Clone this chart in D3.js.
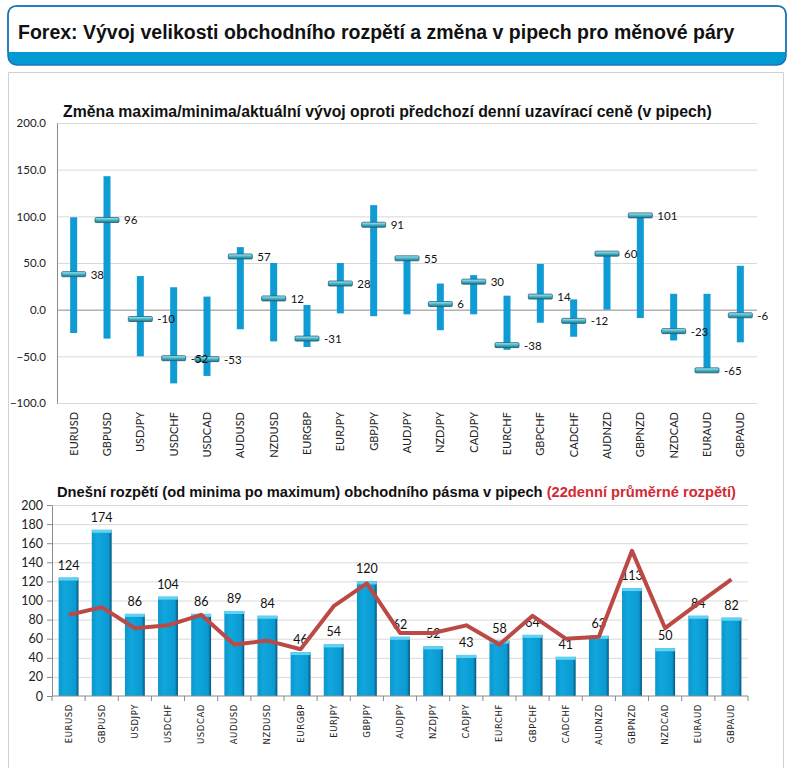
<!DOCTYPE html>
<html>
<head>
<meta charset="utf-8">
<script src="https://cdn.jsdelivr.net/npm/d3@7"></script>
<style>
  body { margin: 0; background: #fff; }
  svg { display: block; }
</style>
</head>
<body>
<svg id="chart" width="793" height="768"></svg>
<script>
// currency pairs, same order in both charts
var pairs = ["EURUSD", "GBPUSD", "USDJPY", "USDCHF", "USDCAD", "AUDUSD", "NZDUSD", "EURGBP", "EURJPY", "GBPJPY",
             "AUDJPY", "NZDJPY", "CADJPY", "EURCHF", "GBPCHF", "CADCHF", "AUDNZD", "GBPNZD", "NZDCAD", "EURAUD", "GBPAUD"]

// top chart: change of max / min / current vs previous close (pips)
var chgMax = [99, 143, 36, 24, 14, 67, 50, 5, 50, 112, 55, 28, 37, 15, 49, 11, 61, 101, 17, 17, 47]
var chgMin = [-25, -31, -50, -79, -71, -21, -34, -40, -4, -7, -5, -22, -5, -43, -14, -29, 0, -9, -33, -65, -35]
var chgNow = [38, 96, -10, -52, -53, 57, 12, -31, 28, 91, 55, 6, 30, -38, 14, -12, 60, 101, -23, -65, -6]
var topTicks = [-100, -50, 0, 50, 100, 150, 200]

// bottom chart: today's range and 22-day average range (pips)
var rangeToday = [124, 174, 86, 104, 86, 89, 84, 46, 54, 120, 62, 52, 43, 58, 64, 41, 63, 113, 50, 84, 82]
var range22 = [85, 93, 71, 74, 85, 54, 58, 49, 94, 118, 66, 66, 74, 54, 84, 60, 62, 152, 71, 97, 122]
var bottomTicks = [0, 20, 40, 60, 80, 100, 120, 140, 160, 180, 200]
</script>
<script>
var svg = d3.select("#chart")
var defs = svg.append("defs")

var titleFont = "'Liberation Sans', Arial, sans-serif"
var tickFont = "Lato, 'Open Sans', sans-serif"

// ---- gradients ----
var gCap = defs.append("linearGradient").attr("id", "capGrad").attr("x1", 0).attr("y1", 0).attr("x2", 0).attr("y2", 1)
gCap.append("stop").attr("offset", "0%").attr("stop-color", "#b9eef8")
gCap.append("stop").attr("offset", "45%").attr("stop-color", "#48bcd8")
gCap.append("stop").attr("offset", "100%").attr("stop-color", "#1f7488")

var gBar = defs.append("linearGradient").attr("id", "barGrad").attr("x1", 0).attr("y1", 0).attr("x2", 1).attr("y2", 0)
gBar.append("stop").attr("offset", "0%").attr("stop-color", "#0c97cc")
gBar.append("stop").attr("offset", "30%").attr("stop-color", "#10a7dd")
gBar.append("stop").attr("offset", "85%").attr("stop-color", "#0a9ad2")
gBar.append("stop").attr("offset", "100%").attr("stop-color", "#07537a")

// ---- header ----
svg.append("rect")
    .attr("x", 8).attr("y", 6).attr("width", 778).attr("height", 59)
    .attr("rx", 9).attr("fill", "#0399d3").attr("stroke", "#1c76b5").attr("stroke-width", 1.5)
svg.append("path")
    .attr("d", "M8.75,52 L8.75,15 Q8.75,6.75 17,6.75 L777,6.75 Q785.25,6.75 785.25,15 L785.25,52 Z")
    .attr("fill", "#fff")
svg.append("path")
    .attr("d", "M8,52 L8,15 Q8,6 17,6 L777,6 Q786,6 786,15 L786,52")
    .attr("fill", "none").attr("stroke", "#1c76b5").attr("stroke-width", 1.5)
svg.append("text")
    .attr("x", 18).attr("y", 39)
    .attr("font-family", titleFont)
    .attr("font-weight", "bold").attr("font-size", 19.5)
    .attr("fill", "#111")
    .text("Forex: Vývoj velikosti obchodního rozpětí a změna v pipech pro měnové páry")

// ---- content panel ----
svg.append("path")
    .attr("d", "M8.5,768 L8.5,72.5 L783.5,72.5 L783.5,768")
    .attr("fill", "none").attr("stroke", "#d0d0d0").attr("stroke-width", 1)

// ================= TOP CHART =================
var mT = { left: 57, right: 757, top: 123, bottom: 403 }

var xT = d3.scaleBand().domain(pairs).range([mT.left, mT.right])
var yT = d3.scaleLinear().domain([-100, 200]).range([mT.bottom, mT.top])

svg.append("text")
    .attr("x", 63).attr("y", 117)
    .attr("font-family", titleFont)
    .attr("font-weight", "bold").attr("font-size", 15.8).attr("fill", "#111")
    .text("Změna maxima/minima/aktuální vývoj oproti předchozí denní uzavírací ceně (v pipech)")

// gridlines
svg.append("g")
    .attr("transform", `translate(${mT.left},0)`)
    .call(d3.axisLeft(yT).tickValues(topTicks).tickSize(-(mT.right - mT.left)).tickFormat(""))
    .call(g => g.select(".domain").remove())
    .call(g => g.selectAll(".tick line").attr("stroke", d => d === 0 ? "#8a8a8a" : "#d9d9d9"))

// y labels + axis line
svg.append("g")
    .attr("transform", `translate(${mT.left},0)`)
    .call(d3.axisLeft(yT).tickValues(topTicks).tickSize(0).tickPadding(11).tickFormat(d3.format(".1f")))
    .call(g => g.select(".domain").attr("stroke", "#8a8a8a"))
    .call(g => g.selectAll("text").attr("font-family", tickFont).attr("font-size", 11.5).attr("fill", "#222"))

// x labels
svg.append("g")
    .attr("transform", `translate(0,${mT.bottom})`)
    .call(d3.axisBottom(xT).tickSize(0).tickPadding(0))
    .call(g => g.select(".domain").remove())
    .call(g => g.selectAll("text")
        .attr("font-family", tickFont).attr("font-size", 11).attr("fill", "#222")
        .attr("text-anchor", "end")
        .attr("transform", "translate(0,9) rotate(-90)")
        .attr("dx", 0).attr("dy", "0.35em").attr("y", 0))

var topData = pairs.map((p, i) => ({ p: p, max: chgMax[i], min: chgMin[i], now: chgNow[i] }))
var cx = d => xT(d.p) + xT.bandwidth() / 2

// range bars
svg.append("g")
    .selectAll("rect")
    .data(topData)
    .enter()
    .append("rect")
    .attr("x", d => cx(d) - 3.5)
    .attr("width", 7)
    .attr("y", d => yT(d.max))
    .attr("height", d => yT(d.min) - yT(d.max))
    .attr("fill", "#0f9bd3")

// current value markers
svg.append("g")
    .selectAll("rect")
    .data(topData)
    .enter()
    .append("rect")
    .attr("x", d => cx(d) - 12)
    .attr("width", 24)
    .attr("y", d => yT(d.now) - 2.5)
    .attr("height", 5)
    .attr("rx", 1)
    .attr("fill", "url(#capGrad)")
    .attr("stroke", "#2a5e68").attr("stroke-width", 0.8)

svg.append("g")
    .selectAll("text")
    .data(topData)
    .enter()
    .append("text")
    .attr("x", d => cx(d) + 17)
    .attr("y", d => yT(d.now))
    .attr("dy", "0.38em")
    .attr("font-family", tickFont).attr("font-size", 11.5).attr("fill", "#111")
    .text(d => d.now)

// ================= BOTTOM CHART =================
var mB = { left: 52, right: 748, top: 505, bottom: 696 }

var xB = d3.scaleBand().domain(pairs).range([mB.left, mB.right]).paddingInner(0.4).paddingOuter(0.2)
var xBand = d3.scaleBand().domain(pairs).range([mB.left, mB.right])
var yB = d3.scaleLinear().domain([0, 200]).range([mB.bottom, mB.top])

var bTitle = svg.append("text")
    .attr("x", 57).attr("y", 497)
    .attr("font-family", titleFont)
    .attr("font-weight", "bold").attr("font-size", 14.7).attr("fill", "#111")
bTitle.append("tspan").text("Dnešní rozpětí (od minima po maximum) obchodního pásma v pipech ")
bTitle.append("tspan").attr("fill", "#d42a33").text("(22denní průměrné rozpětí)")

// gridlines
svg.append("g")
    .attr("transform", `translate(${mB.left},0)`)
    .call(d3.axisLeft(yB).tickValues(bottomTicks).tickSize(-(mB.right - mB.left)).tickFormat(""))
    .call(g => g.select(".domain").remove())
    .call(g => g.selectAll(".tick line").attr("stroke", "#d9d9d9"))
    .call(g => g.selectAll(".tick").filter(d => d === 0).remove())

// y axis
svg.append("g")
    .attr("transform", `translate(${mB.left},0)`)
    .call(d3.axisLeft(yB).tickValues(bottomTicks).tickSizeInner(5).tickSizeOuter(0).tickPadding(4))
    .call(g => g.select(".domain").attr("stroke", "#8a8a8a"))
    .call(g => g.selectAll(".tick line").attr("stroke", "#8a8a8a"))
    .call(g => g.selectAll("text").attr("font-family", tickFont).attr("font-size", 12.5).attr("fill", "#222"))

// bars
var botData = pairs.map((p, i) => ({ p: p, v: rangeToday[i], avg: range22[i] }))

var barG = svg.append("g")
    .selectAll("g")
    .data(botData)
    .enter()
    .append("g")
barG.append("rect")
    .attr("x", d => xB(d.p))
    .attr("width", xB.bandwidth())
    .attr("y", d => yB(d.v))
    .attr("height", d => yB(0) - yB(d.v))
    .attr("fill", "url(#barGrad)")
barG.append("rect")
    .attr("x", d => xB(d.p))
    .attr("width", xB.bandwidth())
    .attr("y", d => yB(d.v))
    .attr("height", 3)
    .attr("fill", "#62d2f2")
barG.append("text")
    .attr("x", d => xB(d.p) + xB.bandwidth() / 2)
    .attr("y", d => yB(d.v) - 8)
    .attr("text-anchor", "middle")
    .attr("font-family", tickFont).attr("font-size", 12.5).attr("fill", "#111")
    .text(d => d.v)

// x axis with ticks between categories
var xAxisB = svg.append("g").attr("transform", `translate(0,${mB.bottom})`)
xAxisB.append("line")
    .attr("x1", mB.left).attr("x2", mB.right)
    .attr("stroke", "#8a8a8a")
xAxisB.selectAll("line.sep")
    .data(pairs.concat(["end"]))
    .enter()
    .append("line")
    .attr("class", "sep")
    .attr("x1", (d, i) => i < pairs.length ? xBand(d) : mB.right)
    .attr("x2", (d, i) => i < pairs.length ? xBand(d) : mB.right)
    .attr("y1", 0).attr("y2", 5)
    .attr("stroke", "#8a8a8a")
xAxisB.call(d3.axisBottom(xBand).tickSize(0).tickPadding(0))
    .call(g => g.select(".domain").remove())
    .call(g => g.selectAll(".tick text")
        .attr("font-family", "'DejaVu Sans', Verdana, sans-serif").attr("font-size", 8.5)
        .attr("letter-spacing", 0.6).attr("fill", "#222")
        .attr("text-anchor", "end")
        .attr("transform", "translate(0,8) rotate(-90)")
        .attr("dy", "0.35em").attr("y", 0))

// 22-day average line
var line = d3.line()
    .x(d => xB(d.p) + xB.bandwidth() / 2)
    .y(d => yB(d.avg))
svg.append("path")
    .datum(botData)
    .attr("d", line)
    .attr("fill", "none")
    .attr("stroke", "#bb4a47")
    .attr("stroke-width", 4)
    .attr("stroke-linejoin", "round")
</script>
</body>
</html>
